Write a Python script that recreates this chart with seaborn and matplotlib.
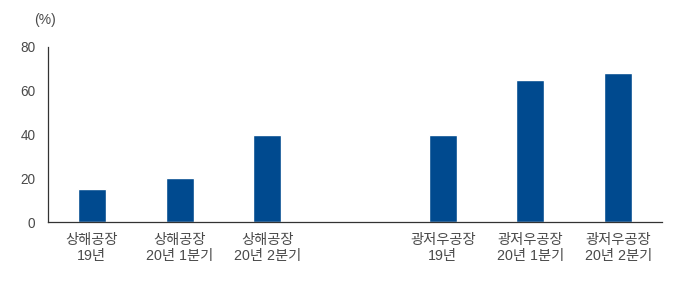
import numpy as np
import pandas as pd
import matplotlib
matplotlib.use("Agg")
import matplotlib.pyplot as plt
import seaborn as sns
from matplotlib.ticker import FixedLocator

categories = ["상해공장\n19년", "상해공장\n20년 1분기", "상해공장\n20년 2분기", "",
              "광저우공장\n19년", "광저우공장\n20년 1분기", "광저우공장\n20년 2분기"]
values = [15, 20, 40, np.nan, 40, 65, 68]
yticks = [0, 20, 40, 60, 80]

sns.set_theme(style="white")
plt.rcParams['font.family'] = ['Liberation Sans', 'Noto Sans CJK KR', 'DejaVu Sans']

df = pd.DataFrame({"cat": categories, "val": values})

fig = plt.figure(figsize=(6.8, 2.89), dpi=100)
ax = fig.add_axes([48/680, 1-222/289, (662-48)/680, (222-47)/289])

sns.barplot(data=df, x="cat", y="val", order=categories, color="#004A8F",
            saturation=1, width=0.32, ax=ax, errorbar=None)

ax.set_xlim(-0.5, len(categories) - 0.5)
ax.set_ylim(0, 80)
ax.set_yticks(yticks)
ax.set_xlabel("")
ax.set_ylabel("")

text_color = "#4a4a4a"
ax.tick_params(axis="y", direction="in", length=4, width=0.8, color="#333333",
               labelsize=9.8, labelcolor=text_color, pad=9)
ax.tick_params(axis="x", which="major", length=0, labelsize=10.3,
               labelcolor=text_color, pad=8)
ax.xaxis.set_minor_locator(FixedLocator(np.arange(0.5, len(categories), 1.0)))
ax.tick_params(axis="x", which="minor", direction="in", length=4, width=0.8,
               color="#333333")
for lbl in ax.get_xticklabels():
    lbl.set_linespacing(1.2)

for s in ["top", "right"]:
    ax.spines[s].set_visible(False)
for s in ["left", "bottom"]:
    ax.spines[s].set_color("#333333")
    ax.spines[s].set_linewidth(0.9)

fig.text(45/680, 1-20/289, "(%)", ha="center", va="center", fontsize=10,
         color=text_color)

fig.savefig("out.png", dpi=100)
